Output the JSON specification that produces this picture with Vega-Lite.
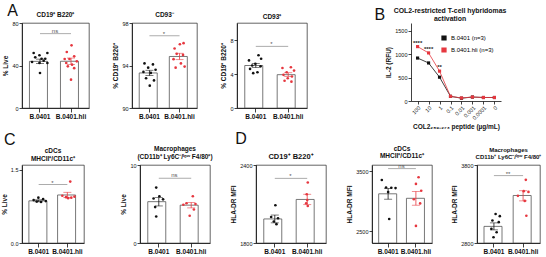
{
"$schema":"https://vega.github.io/schema/vega-lite/v6.json",
"padding":{"left":1,"top":3,"right":0,"bottom":0},
"config":{
 "font":"Liberation Sans",
 "view":{"stroke":"#222","strokeWidth":0.7},
 "axis":{"labelFontSize":5.5,"labelColor":"#111","domainColor":"#111","tickColor":"#111","domainWidth":0.8,"tickWidth":0.8,"tickSize":3,"labelPadding":1,"titleFontSize":6.5,"titleFontWeight":"bold","titleColor":"#111","grid":false,"titlePadding":3},
 "axisX":{"labelFontWeight":"bold","labelFontSize":6.5,"labelAngle":0,"tickSize":4},
 "title":{"fontSize":6.5,"fontWeight":"bold","color":"#111","offset":3,"lineHeight":7.5}
},
"resolve":{"scale":{"color":"independent"},"legend":{"color":"independent"}},
"datasets":{
 "pts":[
  {"p":"A1","g":"B.0401","v":51.8,"j":-0.6},{"p":"A1","g":"B.0401","v":49.6,"j":-0.05},{"p":"A1","g":"B.0401","v":51.8,"j":0.7},{"p":"A1","g":"B.0401","v":47.7,"j":-0.45},{"p":"A1","g":"B.0401","v":46.4,"j":0.15},{"p":"A1","g":"B.0401","v":46.4,"j":0.5},{"p":"A1","g":"B.0401","v":43.3,"j":-0.75},{"p":"A1","g":"B.0401","v":42.4,"j":0.7},{"p":"A1","g":"B.0401","v":42.4,"j":-0.05},{"p":"A1","g":"B.0401","v":32.9,"j":0.0},{"p":"A1","g":"B.0401","v":44.5,"j":0.35},
  {"p":"A1","g":"B.0401.hli","v":59,"j":0.05},{"p":"A1","g":"B.0401.hli","v":52.7,"j":-0.4},{"p":"A1","g":"B.0401.hli","v":48.6,"j":0.3},{"p":"A1","g":"B.0401.hli","v":46.1,"j":-0.15},{"p":"A1","g":"B.0401.hli","v":46.1,"j":-0.6},{"p":"A1","g":"B.0401.hli","v":43.9,"j":0.55},{"p":"A1","g":"B.0401.hli","v":42.4,"j":-0.45},{"p":"A1","g":"B.0401.hli","v":40.8,"j":0.1},{"p":"A1","g":"B.0401.hli","v":39.2,"j":-0.3},{"p":"A1","g":"B.0401.hli","v":37.5,"j":0.3},{"p":"A1","g":"B.0401.hli","v":26.7,"j":0.0},
  {"p":"A2","g":"B.0401","v":94.2,"j":-0.5},{"p":"A2","g":"B.0401","v":94.1,"j":0.3},{"p":"A2","g":"B.0401","v":93.8,"j":-0.15},{"p":"A2","g":"B.0401","v":93.6,"j":0.55},{"p":"A2","g":"B.0401","v":93.4,"j":-0.6},{"p":"A2","g":"B.0401","v":93.3,"j":0.1},{"p":"A2","g":"B.0401","v":92.8,"j":-0.35},{"p":"A2","g":"B.0401","v":92.6,"j":0.4},{"p":"A2","g":"B.0401","v":92.1,"j":0.0},
  {"p":"A2","g":"B.0401.hli","v":96.0,"j":0.0},{"p":"A2","g":"B.0401.hli","v":96.1,"j":0.35},{"p":"A2","g":"B.0401.hli","v":95.6,"j":-0.5},{"p":"A2","g":"B.0401.hli","v":95.1,"j":-0.3},{"p":"A2","g":"B.0401.hli","v":95.0,"j":0.3},{"p":"A2","g":"B.0401.hli","v":94.6,"j":-0.6},{"p":"A2","g":"B.0401.hli","v":94.2,"j":0.1},{"p":"A2","g":"B.0401.hli","v":93.9,"j":0.45},{"p":"A2","g":"B.0401.hli","v":93.8,"j":-0.4},
  {"p":"A3","g":"B.0401","v":6.2,"j":0.3},{"p":"A3","g":"B.0401","v":5.8,"j":0.55},{"p":"A3","g":"B.0401","v":5.6,"j":-0.6},{"p":"A3","g":"B.0401","v":5.2,"j":0.0},{"p":"A3","g":"B.0401","v":5.0,"j":-0.3},{"p":"A3","g":"B.0401","v":4.9,"j":0.5},{"p":"A3","g":"B.0401","v":4.6,"j":-0.5},{"p":"A3","g":"B.0401","v":4.2,"j":0.2},{"p":"A3","g":"B.0401","v":4.1,"j":-0.2},
  {"p":"A3","g":"B.0401.hli","v":4.8,"j":0.3},{"p":"A3","g":"B.0401.hli","v":4.7,"j":-0.5},{"p":"A3","g":"B.0401.hli","v":4.4,"j":0.6},{"p":"A3","g":"B.0401.hli","v":4.2,"j":-0.1},{"p":"A3","g":"B.0401.hli","v":3.9,"j":-0.4},{"p":"A3","g":"B.0401.hli","v":3.7,"j":0.4},{"p":"A3","g":"B.0401.hli","v":3.5,"j":0.0},{"p":"A3","g":"B.0401.hli","v":3.2,"j":-0.3},{"p":"A3","g":"B.0401.hli","v":3.1,"j":0.35},
  {"p":"C1","g":"B.0401","v":0.93,"j":-0.1},{"p":"C1","g":"B.0401","v":0.9,"j":0.35},{"p":"C1","g":"B.0401","v":0.88,"j":-0.55},{"p":"C1","g":"B.0401","v":0.86,"j":0.6},{"p":"C1","g":"B.0401","v":0.85,"j":-0.25},{"p":"C1","g":"B.0401","v":0.84,"j":0.15},
  {"p":"C1","g":"B.0401.hli","v":1.26,"j":0.2},{"p":"C1","g":"B.0401.hli","v":0.97,"j":-0.55},{"p":"C1","g":"B.0401.hli","v":0.95,"j":0.6},{"p":"C1","g":"B.0401.hli","v":0.94,"j":-0.2},{"p":"C1","g":"B.0401.hli","v":0.93,"j":0.3},{"p":"C1","g":"B.0401.hli","v":0.92,"j":0.0},
  {"p":"C2","g":"B.0401","v":7.1,"j":-0.2},{"p":"C2","g":"B.0401","v":6.0,"j":0.1},{"p":"C2","g":"B.0401","v":5.7,"j":-0.45},{"p":"C2","g":"B.0401","v":5.6,"j":0.45},{"p":"C2","g":"B.0401","v":4.6,"j":-0.3},{"p":"C2","g":"B.0401","v":3.4,"j":-0.2},
  {"p":"C2","g":"B.0401.hli","v":6.0,"j":0.2},{"p":"C2","g":"B.0401.hli","v":5.1,"j":-0.4},{"p":"C2","g":"B.0401.hli","v":5.0,"j":0.45},{"p":"C2","g":"B.0401.hli","v":4.9,"j":-0.7},{"p":"C2","g":"B.0401.hli","v":4.3,"j":0.3},{"p":"C2","g":"B.0401.hli","v":3.5,"j":-0.1},
  {"p":"D1","g":"B.0401","v":2090,"j":0.1},{"p":"D1","g":"B.0401","v":2000,"j":-0.3},{"p":"D1","g":"B.0401","v":1990,"j":0.35},{"p":"D1","g":"B.0401","v":1965,"j":-0.05},{"p":"D1","g":"B.0401","v":1945,"j":0.2},
  {"p":"D1","g":"B.0401.hli","v":2265,"j":0.1},{"p":"D1","g":"B.0401.hli","v":2175,"j":0.0},{"p":"D1","g":"B.0401.hli","v":2130,"j":0.05},{"p":"D1","g":"B.0401.hli","v":2105,"j":-0.05},{"p":"D1","g":"B.0401.hli","v":2085,"j":0.1},
  {"p":"D2","g":"B.0401","v":3350,"j":-0.7},{"p":"D2","g":"B.0401","v":3225,"j":-0.3},{"p":"D2","g":"B.0401","v":3220,"j":0.2},{"p":"D2","g":"B.0401","v":3215,"j":0.6},{"p":"D2","g":"B.0401","v":3150,"j":-0.1},{"p":"D2","g":"B.0401","v":2700,"j":0.0},
  {"p":"D2","g":"B.0401.hli","v":3395,"j":0.15},{"p":"D2","g":"B.0401.hli","v":3285,"j":-0.1},{"p":"D2","g":"B.0401.hli","v":3170,"j":0.4},{"p":"D2","g":"B.0401.hli","v":3030,"j":-0.3},{"p":"D2","g":"B.0401.hli","v":2960,"j":0.3},{"p":"D2","g":"B.0401.hli","v":2585,"j":-0.1},
  {"p":"D3","g":"B.0401","v":3172,"j":0.1},{"p":"D3","g":"B.0401","v":3144,"j":0.5},{"p":"D3","g":"B.0401","v":3088,"j":-0.2},{"p":"D3","g":"B.0401","v":3067,"j":0.4},{"p":"D3","g":"B.0401","v":2982,"j":-0.3},{"p":"D3","g":"B.0401","v":2938,"j":0.2},{"p":"D3","g":"B.0401","v":2874,"j":-0.1},
  {"p":"D3","g":"B.0401.hli","v":3610,"j":0.2},{"p":"D3","g":"B.0401.hli","v":3465,"j":0.0},{"p":"D3","g":"B.0401.hli","v":3455,"j":0.45},{"p":"D3","g":"B.0401.hli","v":3405,"j":-0.55},{"p":"D3","g":"B.0401.hli","v":3340,"j":0.1},{"p":"D3","g":"B.0401.hli","v":3150,"j":0.25}
 ],
 "bars":[
  {"p":"A1","g":"B.0401","m":43.9,"lo":41.8,"hi":46},{"p":"A1","g":"B.0401.hli","m":44,"lo":41,"hi":47},
  {"p":"A2","g":"B.0401","m":93.3,"lo":93.05,"hi":93.55},{"p":"A2","g":"B.0401.hli","m":94.85,"lo":94.55,"hi":95.15},
  {"p":"A3","g":"B.0401","m":5.0,"lo":4.75,"hi":5.25},{"p":"A3","g":"B.0401.hli","m":3.92,"lo":3.7,"hi":4.15},
  {"p":"C1","g":"B.0401","m":0.865,"lo":0.845,"hi":0.885},{"p":"C1","g":"B.0401.hli","m":0.985,"lo":0.93,"hi":1.04},
  {"p":"C2","g":"B.0401","m":5.3,"lo":4.75,"hi":5.85},{"p":"C2","g":"B.0401.hli","m":4.85,"lo":4.5,"hi":5.2},
  {"p":"D1","g":"B.0401","m":1985,"lo":1955,"hi":2015},{"p":"D1","g":"B.0401.hli","m":2135,"lo":2095,"hi":2175},
  {"p":"D2","g":"B.0401","m":3120,"lo":3030,"hi":3210},{"p":"D2","g":"B.0401.hli","m":3045,"lo":2930,"hi":3160},
  {"p":"D3","g":"B.0401","m":3013,"lo":2968,"hi":3058},{"p":"D3","g":"B.0401.hli","m":3409,"lo":3340,"hi":3470}
 ],
 "sig":[
  {"p":"A1","y":70,"t":"ns"},{"p":"A2","y":96.8,"t":"*"},{"p":"A3","y":7.25,"t":"*"},
  {"p":"C1","y":1.2,"t":"*"},{"p":"C2","y":8.3,"t":"ns"},
  {"p":"D1","y":2297,"t":"*"},{"p":"D2","y":3540,"t":"ns"},{"p":"D3","y":3664,"t":"**"}
 ],
 "dose":[
  {"c":"100","g":"B.0401","v":920},{"c":"10","g":"B.0401","v":815},{"c":"1","g":"B.0401","v":510},{"c":"0.1","g":"B.0401","v":100},{"c":"0.01","g":"B.0401","v":60},{"c":"0.001","g":"B.0401","v":85},{"c":"0.0001","g":"B.0401","v":75},{"c":"0","g":"B.0401","v":75},
  {"c":"100","g":"B.0401.hli","v":1165},{"c":"10","g":"B.0401.hli","v":1030},{"c":"1","g":"B.0401.hli","v":640},{"c":"0.1","g":"B.0401.hli","v":100},{"c":"0.01","g":"B.0401.hli","v":65},{"c":"0.001","g":"B.0401.hli","v":85},{"c":"0.0001","g":"B.0401.hli","v":75},{"c":"0","g":"B.0401.hli","v":75}
 ],
 "stars":[{"c":"100","v":1165,"t":"****"},{"c":"10","v":1030,"t":"****"},{"c":"1","v":640,"t":"**"}]
},
"vconcat":[
 {"hconcat":[
  {"hconcat":[
   {"width":67,"height":85,"title":{"text":"CD19⁺ B220⁺"},
    "encoding":{"x":{"field":"g","type":"nominal","sort":["B.0401","B.0401.hli"],"scale":{"paddingInner":0.32,"paddingOuter":0.24},"axis":{"title":null}}},
    "layer":[
     {"data":{"name":"bars"},"transform":[{"filter":"datum.p==='A1'"}],"mark":{"type":"bar","fill":"white","stroke":"#555","strokeWidth":0.8,"clip":true},"encoding":{"y":{"field":"m","type":"quantitative","scale":{"domain":[0,80]},"axis":{"values":[0,20,40,60,80],"title":"% Live"}},"y2":{"datum":0}}},
     {"data":{"name":"bars"},"transform":[{"filter":"datum.p==='A1'"}],"mark":{"type":"rule","strokeWidth":0.8},"encoding":{"y":{"field":"lo","type":"quantitative"},"y2":{"field":"hi"},"color":{"field":"g","type":"nominal","scale":{"domain":["B.0401","B.0401.hli"],"range":["#111111","#e6373f"]},"legend":null}}},
     {"data":{"name":"bars"},"transform":[{"filter":"datum.p==='A1'"},{"fold":["lo","hi"]}],"mark":{"type":"tick","size":8,"thickness":0.8},"encoding":{"y":{"field":"value","type":"quantitative"},"color":{"field":"g","type":"nominal","legend":null}}},
     {"data":{"name":"pts"},"transform":[{"filter":"datum.p==='A1'"}],"mark":{"type":"circle","size":7,"opacity":1},"encoding":{"y":{"field":"v","type":"quantitative"},"xOffset":{"field":"j","type":"quantitative","scale":{"domain":[-1,1]}},"color":{"field":"g","type":"nominal","legend":null}}},
     {"data":{"name":"sig"},"transform":[{"filter":"datum.p==='A1'"}],"mark":{"type":"rule","color":"#888","strokeWidth":0.7},"encoding":{"x":{"datum":"B.0401","type":"nominal","bandPosition":0.5},"x2":{"datum":"B.0401.hli","bandPosition":0.5},"y":{"field":"y","type":"quantitative"}}},
     {"data":{"name":"sig"},"transform":[{"filter":"datum.p==='A1'"}],"mark":{"type":"text","dy":-3,"fontSize":6,"color":"#555"},"encoding":{"x":{"datum":"B.0401","type":"nominal","bandPosition":1.21},"y":{"field":"y","type":"quantitative"},"text":{"field":"t"}}}
    ]},
   {"width":65,"height":85,"title":{"text":"CD93⁻"},
    "encoding":{"x":{"field":"g","type":"nominal","sort":["B.0401","B.0401.hli"],"scale":{"paddingInner":0.32,"paddingOuter":0.24},"axis":{"title":null}}},
    "layer":[
     {"data":{"name":"bars"},"transform":[{"filter":"datum.p==='A2'"}],"mark":{"type":"bar","fill":"white","stroke":"#555","strokeWidth":0.8,"clip":true},"encoding":{"y":{"field":"m","type":"quantitative","scale":{"domain":[90,98],"zero":false},"axis":{"values":[90,92,94,96,98],"title":"% CD19⁺ B220⁺"}},"y2":{"datum":90}}},
     {"data":{"name":"bars"},"transform":[{"filter":"datum.p==='A2'"}],"mark":{"type":"rule","strokeWidth":0.8},"encoding":{"y":{"field":"lo","type":"quantitative"},"y2":{"field":"hi"},"color":{"field":"g","type":"nominal","scale":{"domain":["B.0401","B.0401.hli"],"range":["#111111","#e6373f"]},"legend":null}}},
     {"data":{"name":"bars"},"transform":[{"filter":"datum.p==='A2'"},{"fold":["lo","hi"]}],"mark":{"type":"tick","size":8,"thickness":0.8},"encoding":{"y":{"field":"value","type":"quantitative"},"color":{"field":"g","type":"nominal","legend":null}}},
     {"data":{"name":"pts"},"transform":[{"filter":"datum.p==='A2'"}],"mark":{"type":"circle","size":7,"opacity":1},"encoding":{"y":{"field":"v","type":"quantitative"},"xOffset":{"field":"j","type":"quantitative","scale":{"domain":[-1,1]}},"color":{"field":"g","type":"nominal","legend":null}}},
     {"data":{"name":"sig"},"transform":[{"filter":"datum.p==='A2'"}],"mark":{"type":"rule","color":"#888","strokeWidth":0.7},"encoding":{"x":{"datum":"B.0401","type":"nominal","bandPosition":0.5},"x2":{"datum":"B.0401.hli","bandPosition":0.5},"y":{"field":"y","type":"quantitative"}}},
     {"data":{"name":"sig"},"transform":[{"filter":"datum.p==='A2'"}],"mark":{"type":"text","dy":-2,"fontSize":6,"color":"#555"},"encoding":{"x":{"datum":"B.0401","type":"nominal","bandPosition":1.21},"y":{"field":"y","type":"quantitative"},"text":{"field":"t"}}}
    ]},
   {"width":70,"height":85,"title":{"text":"CD93⁺"},
    "encoding":{"x":{"field":"g","type":"nominal","sort":["B.0401","B.0401.hli"],"scale":{"paddingInner":0.32,"paddingOuter":0.24},"axis":{"title":null}}},
    "layer":[
     {"data":{"name":"bars"},"transform":[{"filter":"datum.p==='A3'"}],"mark":{"type":"bar","fill":"white","stroke":"#555","strokeWidth":0.8,"clip":true},"encoding":{"y":{"field":"m","type":"quantitative","scale":{"domain":[0,10]},"axis":{"values":[0,2,4,6,8,10],"title":"% CD19⁺ B220⁺"}},"y2":{"datum":0}}},
     {"data":{"name":"bars"},"transform":[{"filter":"datum.p==='A3'"}],"mark":{"type":"rule","strokeWidth":0.8},"encoding":{"y":{"field":"lo","type":"quantitative"},"y2":{"field":"hi"},"color":{"field":"g","type":"nominal","scale":{"domain":["B.0401","B.0401.hli"],"range":["#111111","#e6373f"]},"legend":null}}},
     {"data":{"name":"bars"},"transform":[{"filter":"datum.p==='A3'"},{"fold":["lo","hi"]}],"mark":{"type":"tick","size":8,"thickness":0.8},"encoding":{"y":{"field":"value","type":"quantitative"},"color":{"field":"g","type":"nominal","legend":null}}},
     {"data":{"name":"pts"},"transform":[{"filter":"datum.p==='A3'"}],"mark":{"type":"circle","size":7,"opacity":1},"encoding":{"y":{"field":"v","type":"quantitative"},"xOffset":{"field":"j","type":"quantitative","scale":{"domain":[-1,1]}},"color":{"field":"g","type":"nominal","legend":null}}},
     {"data":{"name":"sig"},"transform":[{"filter":"datum.p==='A3'"}],"mark":{"type":"rule","color":"#888","strokeWidth":0.7},"encoding":{"x":{"datum":"B.0401","type":"nominal","bandPosition":0.5},"x2":{"datum":"B.0401.hli","bandPosition":0.5},"y":{"field":"y","type":"quantitative"}}},
     {"data":{"name":"sig"},"transform":[{"filter":"datum.p==='A3'"}],"mark":{"type":"text","dy":-2,"fontSize":6,"color":"#555"},"encoding":{"x":{"datum":"B.0401","type":"nominal","bandPosition":1.21},"y":{"field":"y","type":"quantitative"},"text":{"field":"t"}}}
    ]}
  ],"spacing":22,"title":{"text":"A","orient":"left","anchor":"end","angle":0,"align":"right","baseline":"top","fontSize":16,"fontWeight":"normal","offset":-18,"dy":-8,"dx":8}},
  {"hconcat":[
   {"width":90,"height":78,"title":{"text":["COL2-restricted T-cell hybridomas","activation"],"fontSize":6.9,"lineHeight":8.5,"offset":0,"dx":-6},"view":{"stroke":null},
    "encoding":{"x":{"field":"c","type":"ordinal","sort":["100","10","1","0.1","0.01","0.001","0.0001","0"],"scale":{"type":"point","padding":0.6},"axis":{"title":"COL2₂₅₉₋₂₇₃ peptide (µg/mL)","labelAngle":-45,"labelFontWeight":"normal","labelFontSize":5.5,"tickSize":3}},
     "y":{"field":"v","type":"quantitative","scale":{"domain":[0,1671]},"axis":{"values":[0,500,1000,1500],"format":"d","title":"IL-2 (RFU)"}}},
    "layer":[
     {"data":{"name":"dose"},"mark":{"type":"line","strokeWidth":0.8},"encoding":{"color":{"field":"g","type":"nominal","scale":{"domain":["B.0401","B.0401.hli"],"range":["#111111","#e6373f"]},"legend":{"orient":"none","legendX":30,"legendY":12,"title":null,"symbolType":"square","symbolSize":14,"labelFontSize":6,"labelExpr":"datum.label + ' (n=3)'","rowPadding":2,"padding":0}}}},
     {"data":{"name":"dose"},"mark":{"type":"square","size":10,"opacity":1},"encoding":{"color":{"field":"g","type":"nominal"}}},
     {"data":{"name":"stars"},"mark":{"type":"text","dy":-4,"fontSize":6,"fontWeight":"bold","color":"#222"},"encoding":{"text":{"field":"t"}}}
    ]}
  ],"resolve":{"scale":{"color":"independent"},"legend":{"color":"independent"}},"title":{"text":"B","orient":"left","anchor":"end","angle":0,"align":"right","baseline":"top","fontSize":16,"fontWeight":"normal","offset":-14,"dx":-4}}
 ],"spacing":66,"resolve":{"scale":{"color":"independent"},"legend":{"color":"independent"}}},
 {"hconcat":[
  {"hconcat":[
   {"width":62,"height":78,"title":{"text":["cDCs","MHCII⁺/CD11c⁺"]},
    "encoding":{"x":{"field":"g","type":"nominal","sort":["B.0401","B.0401.hli"],"scale":{"paddingInner":0.32,"paddingOuter":0.24},"axis":{"title":null}}},
    "layer":[
     {"data":{"name":"bars"},"transform":[{"filter":"datum.p==='C1'"}],"mark":{"type":"bar","fill":"white","stroke":"#555","strokeWidth":0.8,"clip":true},"encoding":{"y":{"field":"m","type":"quantitative","scale":{"domain":[0,1.5]},"axis":{"values":[0,0.5,1,1.5],"format":".1f","title":"% Live"}},"y2":{"datum":0}}},
     {"data":{"name":"bars"},"transform":[{"filter":"datum.p==='C1'"}],"mark":{"type":"rule","strokeWidth":0.8},"encoding":{"y":{"field":"lo","type":"quantitative"},"y2":{"field":"hi"},"color":{"field":"g","type":"nominal","scale":{"domain":["B.0401","B.0401.hli"],"range":["#111111","#e6373f"]},"legend":null}}},
     {"data":{"name":"bars"},"transform":[{"filter":"datum.p==='C1'"},{"fold":["lo","hi"]}],"mark":{"type":"tick","size":8,"thickness":0.8},"encoding":{"y":{"field":"value","type":"quantitative"},"color":{"field":"g","type":"nominal","legend":null}}},
     {"data":{"name":"pts"},"transform":[{"filter":"datum.p==='C1'"}],"mark":{"type":"circle","size":7,"opacity":1},"encoding":{"y":{"field":"v","type":"quantitative"},"xOffset":{"field":"j","type":"quantitative","scale":{"domain":[-1,1]}},"color":{"field":"g","type":"nominal","legend":null}}},
     {"data":{"name":"sig"},"transform":[{"filter":"datum.p==='C1'"}],"mark":{"type":"rule","color":"#888","strokeWidth":0.7},"encoding":{"x":{"datum":"B.0401","type":"nominal","bandPosition":0.5},"x2":{"datum":"B.0401.hli","bandPosition":0.5},"y":{"field":"y","type":"quantitative"}}},
     {"data":{"name":"sig"},"transform":[{"filter":"datum.p==='C1'"}],"mark":{"type":"text","dy":-2,"fontSize":6,"color":"#555"},"encoding":{"x":{"datum":"B.0401","type":"nominal","bandPosition":1.21},"y":{"field":"y","type":"quantitative"},"text":{"field":"t"}}}
    ]},
   {"width":70,"height":78,"title":{"text":["Macrophages","(CD11b⁺ Ly6C⁻/ˡᵒʷ F4/80⁺)"]},
    "encoding":{"x":{"field":"g","type":"nominal","sort":["B.0401","B.0401.hli"],"scale":{"paddingInner":0.32,"paddingOuter":0.24},"axis":{"title":null}}},
    "layer":[
     {"data":{"name":"bars"},"transform":[{"filter":"datum.p==='C2'"}],"mark":{"type":"bar","fill":"white","stroke":"#555","strokeWidth":0.8,"clip":true},"encoding":{"y":{"field":"m","type":"quantitative","scale":{"domain":[0,10]},"axis":{"values":[0,2,4,6,8,10],"title":"% Live"}},"y2":{"datum":0}}},
     {"data":{"name":"bars"},"transform":[{"filter":"datum.p==='C2'"}],"mark":{"type":"rule","strokeWidth":0.8},"encoding":{"y":{"field":"lo","type":"quantitative"},"y2":{"field":"hi"},"color":{"field":"g","type":"nominal","scale":{"domain":["B.0401","B.0401.hli"],"range":["#111111","#e6373f"]},"legend":null}}},
     {"data":{"name":"bars"},"transform":[{"filter":"datum.p==='C2'"},{"fold":["lo","hi"]}],"mark":{"type":"tick","size":8,"thickness":0.8},"encoding":{"y":{"field":"value","type":"quantitative"},"color":{"field":"g","type":"nominal","legend":null}}},
     {"data":{"name":"pts"},"transform":[{"filter":"datum.p==='C2'"}],"mark":{"type":"circle","size":7,"opacity":1},"encoding":{"y":{"field":"v","type":"quantitative"},"xOffset":{"field":"j","type":"quantitative","scale":{"domain":[-1,1]}},"color":{"field":"g","type":"nominal","legend":null}}},
     {"data":{"name":"sig"},"transform":[{"filter":"datum.p==='C2'"}],"mark":{"type":"rule","color":"#888","strokeWidth":0.7},"encoding":{"x":{"datum":"B.0401","type":"nominal","bandPosition":0.5},"x2":{"datum":"B.0401.hli","bandPosition":0.5},"y":{"field":"y","type":"quantitative"}}},
     {"data":{"name":"sig"},"transform":[{"filter":"datum.p==='C2'"}],"mark":{"type":"text","dy":-3,"fontSize":6,"color":"#555"},"encoding":{"x":{"datum":"B.0401","type":"nominal","bandPosition":1.21},"y":{"field":"y","type":"quantitative"},"text":{"field":"t"}}}
    ]}
  ],"spacing":35,"title":{"text":"C","orient":"left","anchor":"end","angle":0,"align":"right","baseline":"top","fontSize":16,"fontWeight":"normal","offset":-18,"dy":-14,"dx":8}},
  {"hconcat":[
   {"hconcat":[
    {"width":70,"height":78,"title":{"text":"CD19⁺ B220⁺","fontSize":7.5},
     "encoding":{"x":{"field":"g","type":"nominal","sort":["B.0401","B.0401.hli"],"scale":{"paddingInner":0.32,"paddingOuter":0.24},"axis":{"title":null}}},
     "layer":[
      {"data":{"name":"bars"},"transform":[{"filter":"datum.p==='D1'"}],"mark":{"type":"bar","fill":"white","stroke":"#555","strokeWidth":0.8,"clip":true},"encoding":{"y":{"field":"m","type":"quantitative","scale":{"domain":[1800,2400],"zero":false},"axis":{"values":[1800,2000,2200,2400],"format":"d","title":"HLA-DR MFI"}},"y2":{"datum":1800}}},
      {"data":{"name":"bars"},"transform":[{"filter":"datum.p==='D1'"}],"mark":{"type":"rule","strokeWidth":0.8},"encoding":{"y":{"field":"lo","type":"quantitative"},"y2":{"field":"hi"},"color":{"field":"g","type":"nominal","scale":{"domain":["B.0401","B.0401.hli"],"range":["#111111","#e6373f"]},"legend":null}}},
      {"data":{"name":"bars"},"transform":[{"filter":"datum.p==='D1'"},{"fold":["lo","hi"]}],"mark":{"type":"tick","size":8,"thickness":0.8},"encoding":{"y":{"field":"value","type":"quantitative"},"color":{"field":"g","type":"nominal","legend":null}}},
      {"data":{"name":"pts"},"transform":[{"filter":"datum.p==='D1'"}],"mark":{"type":"circle","size":7,"opacity":1},"encoding":{"y":{"field":"v","type":"quantitative"},"xOffset":{"field":"j","type":"quantitative","scale":{"domain":[-1,1]}},"color":{"field":"g","type":"nominal","legend":null}}},
      {"data":{"name":"sig"},"transform":[{"filter":"datum.p==='D1'"}],"mark":{"type":"rule","color":"#888","strokeWidth":0.7},"encoding":{"x":{"datum":"B.0401","type":"nominal","bandPosition":0.5},"x2":{"datum":"B.0401.hli","bandPosition":0.5},"y":{"field":"y","type":"quantitative"}}},
      {"data":{"name":"sig"},"transform":[{"filter":"datum.p==='D1'"}],"mark":{"type":"text","dy":-2,"fontSize":6,"color":"#555"},"encoding":{"x":{"datum":"B.0401","type":"nominal","bandPosition":1.21},"y":{"field":"y","type":"quantitative"},"text":{"field":"t"}}}
     ]},
    {"width":60,"height":78,"title":{"text":["cDCs","MHCII⁺/CD11c⁺"]},
     "encoding":{"x":{"field":"g","type":"nominal","sort":["B.0401","B.0401.hli"],"scale":{"paddingInner":0.32,"paddingOuter":0.24},"axis":{"title":null}}},
     "layer":[
      {"data":{"name":"bars"},"transform":[{"filter":"datum.p==='D2'"}],"mark":{"type":"bar","fill":"white","stroke":"#555","strokeWidth":0.8,"clip":true},"encoding":{"y":{"field":"m","type":"quantitative","scale":{"domain":[2300,3600],"zero":false},"axis":{"values":[2500,3000,3500],"format":"d","title":"HLA-DR MFI"}},"y2":{"datum":2300}}},
      {"data":{"name":"bars"},"transform":[{"filter":"datum.p==='D2'"}],"mark":{"type":"rule","strokeWidth":0.8},"encoding":{"y":{"field":"lo","type":"quantitative"},"y2":{"field":"hi"},"color":{"field":"g","type":"nominal","scale":{"domain":["B.0401","B.0401.hli"],"range":["#111111","#e6373f"]},"legend":null}}},
      {"data":{"name":"bars"},"transform":[{"filter":"datum.p==='D2'"},{"fold":["lo","hi"]}],"mark":{"type":"tick","size":8,"thickness":0.8},"encoding":{"y":{"field":"value","type":"quantitative"},"color":{"field":"g","type":"nominal","legend":null}}},
      {"data":{"name":"pts"},"transform":[{"filter":"datum.p==='D2'"}],"mark":{"type":"circle","size":7,"opacity":1},"encoding":{"y":{"field":"v","type":"quantitative"},"xOffset":{"field":"j","type":"quantitative","scale":{"domain":[-1,1]}},"color":{"field":"g","type":"nominal","legend":null}}},
      {"data":{"name":"sig"},"transform":[{"filter":"datum.p==='D2'"}],"mark":{"type":"rule","color":"#888","strokeWidth":0.7},"encoding":{"x":{"datum":"B.0401","type":"nominal","bandPosition":0.5},"x2":{"datum":"B.0401.hli","bandPosition":0.5},"y":{"field":"y","type":"quantitative"}}},
      {"data":{"name":"sig"},"transform":[{"filter":"datum.p==='D2'"}],"mark":{"type":"text","dy":-3,"fontSize":6,"color":"#555"},"encoding":{"x":{"datum":"B.0401","type":"nominal","bandPosition":1.21},"y":{"field":"y","type":"quantitative"},"text":{"field":"t"}}}
     ]}
   ],"spacing":19},
   {"width":63,"height":78,"title":{"text":["Macrophages","CD11b⁺ Ly6C⁻/ˡᵒʷ F4/80⁺"],"fontSize":6},
    "encoding":{"x":{"field":"g","type":"nominal","sort":["B.0401","B.0401.hli"],"scale":{"paddingInner":0.32,"paddingOuter":0.24},"axis":{"title":null}}},
    "layer":[
     {"data":{"name":"bars"},"transform":[{"filter":"datum.p==='D3'"}],"mark":{"type":"bar","fill":"white","stroke":"#555","strokeWidth":0.8,"clip":true},"encoding":{"y":{"field":"m","type":"quantitative","scale":{"domain":[2800,3800],"zero":false},"axis":{"values":[2800,3000,3200,3400,3600,3800],"format":"d","title":"HLA-DR MFI"}},"y2":{"datum":2800}}},
     {"data":{"name":"bars"},"transform":[{"filter":"datum.p==='D3'"}],"mark":{"type":"rule","strokeWidth":0.8},"encoding":{"y":{"field":"lo","type":"quantitative"},"y2":{"field":"hi"},"color":{"field":"g","type":"nominal","scale":{"domain":["B.0401","B.0401.hli"],"range":["#111111","#e6373f"]},"legend":null}}},
     {"data":{"name":"bars"},"transform":[{"filter":"datum.p==='D3'"},{"fold":["lo","hi"]}],"mark":{"type":"tick","size":8,"thickness":0.8},"encoding":{"y":{"field":"value","type":"quantitative"},"color":{"field":"g","type":"nominal","legend":null}}},
     {"data":{"name":"pts"},"transform":[{"filter":"datum.p==='D3'"}],"mark":{"type":"circle","size":7,"opacity":1},"encoding":{"y":{"field":"v","type":"quantitative"},"xOffset":{"field":"j","type":"quantitative","scale":{"domain":[-1,1]}},"color":{"field":"g","type":"nominal","legend":null}}},
     {"data":{"name":"sig"},"transform":[{"filter":"datum.p==='D3'"}],"mark":{"type":"rule","color":"#888","strokeWidth":0.7},"encoding":{"x":{"datum":"B.0401","type":"nominal","bandPosition":0.5},"x2":{"datum":"B.0401.hli","bandPosition":0.5},"y":{"field":"y","type":"quantitative"}}},
     {"data":{"name":"sig"},"transform":[{"filter":"datum.p==='D3'"}],"mark":{"type":"text","dy":-2,"fontSize":6,"color":"#555"},"encoding":{"x":{"datum":"B.0401","type":"nominal","bandPosition":1.21},"y":{"field":"y","type":"quantitative"},"text":{"field":"t"}}}
    ]}
  ],"spacing":18,"title":{"text":"D","orient":"left","anchor":"end","angle":0,"align":"right","baseline":"top","fontSize":16,"fontWeight":"normal","offset":-18,"dy":-14,"dx":10}}
 ],"spacing":17}
],"spacing":0
}
